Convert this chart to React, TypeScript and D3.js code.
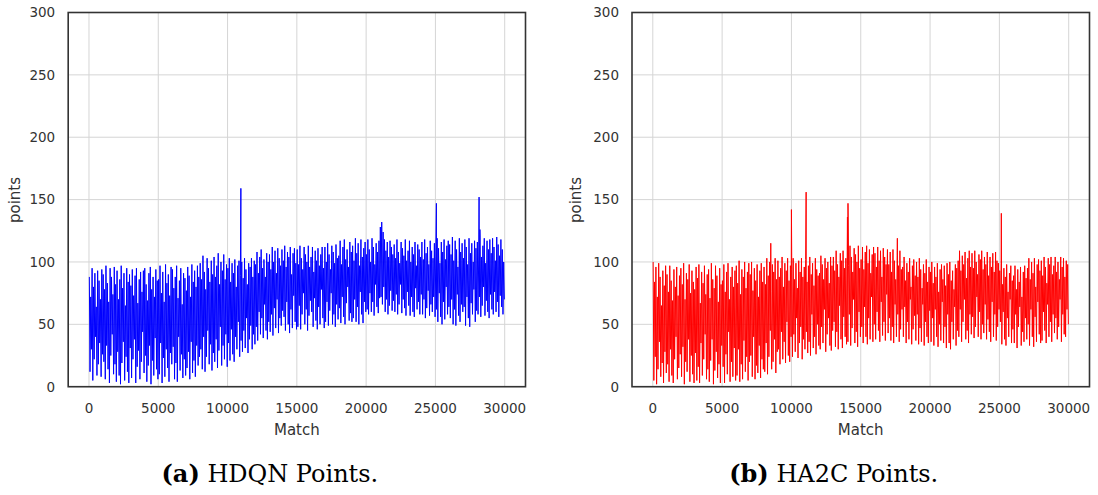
import React from "react";
import * as d3 from "d3";

// ---- Data ----
// Each panel: 300 bins of 100 matches; per bin a high and a low excursion of the noisy series.
const BIN = 100;

const HDQN_HI = [
  88, 72, 95, 80, 91, 64, 93, 85, 70, 94,
  90, 78, 97, 83, 68, 95, 88, 74, 96, 82,
  93, 70, 86, 97, 79, 91, 65, 95, 84, 90,
  81, 94, 73, 89, 95, 67, 86, 92, 76, 93,
  95, 82, 69, 91, 96, 78, 88, 72, 94, 85,
  86, 97, 75, 92, 68, 98, 83, 90, 73, 96,
  94, 79, 88, 97, 71, 85, 95, 66, 91, 87,
  77, 96, 89, 72, 98, 84, 93, 80, 97, 88,
  99, 86, 105, 92, 78, 103, 95, 84, 101, 90,
  104, 88, 97, 107, 82, 100, 93, 106, 86, 98,
  95, 103, 84, 99, 91, 102, 80, 97, 101, 89,
  100, 87, 103, 94, 82, 99, 96, 103, 88, 101,
  98, 108, 91, 104, 110, 95, 102, 88, 107, 100,
  106, 94, 112, 100, 109, 91, 111, 103, 97, 110,
  101, 113, 96, 108, 104, 112, 90, 107, 111, 99,
  110, 98, 113, 103, 94, 112, 106, 100, 113, 96,
  104, 112, 92, 109, 101, 111, 97, 106, 112, 95,
  112, 100, 115, 106, 94, 113, 108, 99, 114, 103,
  105, 117, 98, 112, 118, 102, 110, 96, 116, 108,
  113, 101, 119, 107, 115, 97, 118, 104, 111, 116,
  106, 118, 110, 100, 119, 112, 98, 115, 108, 117,
  128, 132, 124, 118, 109, 116, 104, 117, 112, 106,
  114, 103, 118, 108, 99, 116, 111, 105, 118, 101,
  109, 117, 100, 112, 106, 116, 97, 114, 110, 104,
  116, 102, 118, 107, 112, 98, 117, 109, 103, 115,
  104, 119, 111, 99, 116, 108, 118, 102, 113, 117,
  114, 106, 120, 101, 117, 110, 96, 119, 108, 115,
  103, 118, 112, 98, 119, 107, 115, 100, 117, 111,
  116, 108, 120, 104, 113, 119, 99, 117, 110, 118,
  107, 119, 112, 101, 120, 114, 105, 118, 110, 100,
];
const HDQN_LO = [
  12, 30, 5, 22, 40, 9, 18, 35, 8, 26,
  20, 6, 33, 14, 3, 25, 42, 10, 18, 4,
  28, 9, 2, 19, 36, 5, 24, 12, 3, 31,
  7, 22, 38, 3, 16, 29, 6, 20, 44, 11,
  25, 4, 17, 33, 2, 21, 9, 39, 14, 6,
  10, 35, 3, 23, 8, 30, 15, 4, 27, 18,
  32, 6, 19, 4, 40, 13, 26, 7, 22, 9,
  15, 28, 6, 36, 11, 21, 8, 33, 17, 24,
  30, 14, 40, 12, 24, 45, 18, 34, 13, 27,
  20, 38, 15, 29, 48, 17, 33, 22, 42, 16,
  35, 21, 46, 26, 20, 40, 30, 52, 24, 37,
  28, 45, 31, 55, 27, 38, 49, 30, 42, 34,
  48, 37, 60, 42, 55, 39, 66, 45, 38, 52,
  44, 58, 41, 63, 47, 70, 43, 55, 49, 61,
  56, 45, 68, 50, 43, 62, 47, 73, 52, 46,
  48, 65, 46, 58, 75, 50, 62, 45, 57, 69,
  60, 48, 71, 53, 46, 64, 50, 78, 55, 47,
  52, 68, 49, 61, 75, 50, 58, 48, 66, 54,
  63, 51, 72, 56, 50, 67, 80, 53, 59, 52,
  55, 70, 52, 64, 50, 76, 58, 51, 68, 60,
  62, 58, 75, 60, 68, 57, 82, 64, 59, 71,
  72, 66, 80, 60, 70, 58, 65, 77, 61, 69,
  60, 74, 58, 66, 82, 59, 70, 63, 57, 76,
  65, 57, 72, 60, 56, 79, 62, 68, 58, 74,
  58, 70, 55, 63, 77, 57, 66, 60, 72, 56,
  62, 52, 75, 56, 50, 68, 54, 80, 58, 64,
  55, 70, 50, 62, 49, 74, 57, 52, 66, 60,
  64, 49, 72, 55, 48, 67, 58, 78, 52, 61,
  58, 72, 56, 65, 80, 57, 69, 60, 55, 74,
  62, 58, 76, 60, 68, 56, 73, 64, 58, 70,
];
const HDQN_SPIKE_AT = [10960, 25070, 28150, 28210];
const HDQN_SPIKE_VAL = [159, 147, 152, 126];

const HA2C_HI = [
  100, 84, 96, 72, 99, 88, 65, 93, 81, 97,
  90, 76, 97, 85, 69, 94, 80, 96, 73, 89,
  95, 82, 99, 70, 91, 86, 98, 75, 93, 84,
  78, 96, 87, 98, 67, 92, 83, 97, 74, 90,
  94, 71, 99, 86, 79, 97, 89, 68, 95, 82,
  85, 98, 76, 92, 99, 70, 88, 96, 80, 93,
  97, 83, 101, 74, 94, 88, 100, 79, 92, 99,
  90, 100, 77, 95, 85, 98, 72, 93, 99, 84,
  96, 82, 103, 89, 100, 76, 98, 92, 103, 86,
  101, 88, 95, 104, 80, 99, 93, 103, 85, 97,
  94, 103, 86, 99, 79, 101, 92, 103, 88, 96,
  102, 84, 97, 104, 90, 99, 81, 103, 94, 89,
  91, 105, 98, 86, 103, 95, 100, 83, 104, 97,
  104, 93, 109, 98, 88, 107, 101, 109, 95, 103,
  110, 97, 113, 104, 92, 111, 106, 100, 113, 95,
  102, 112, 94, 108, 113, 99, 110, 91, 106, 112,
  107, 96, 112, 101, 109, 88, 111, 104, 98, 110,
  98, 108, 92, 110, 101, 86, 105, 97, 109, 94,
  96, 104, 85, 99, 92, 103, 80, 97, 102, 89,
  100, 88, 103, 94, 79, 98, 91, 102, 84, 96,
  92, 100, 83, 96, 88, 99, 76, 94, 98, 86,
  97, 81, 99, 90, 100, 85, 93, 78, 98, 95,
  101, 109, 93, 105, 98, 108, 87, 103, 109, 96,
  107, 95, 109, 100, 90, 106, 102, 109, 94, 104,
  98, 108, 89, 104, 96, 107, 92, 108, 101, 99,
  93, 99, 82, 95, 88, 98, 76, 91, 97, 85,
  89, 97, 78, 94, 84, 96, 72, 92, 97, 87,
  95, 103, 86, 100, 91, 103, 80, 98, 102, 93,
  101, 89, 104, 96, 83, 103, 98, 104, 90, 97,
  104, 92, 100, 86, 104, 96, 103, 88, 101, 98,
];
const HA2C_LO = [
  5, 24, 2, 14, 36, 8, 19, 3, 28, 11,
  18, 4, 30, 9, 3, 22, 40, 6, 15, 26,
  8, 32, 2, 20, 12, 38, 4, 25, 10, 3,
  27, 5, 16, 3, 35, 9, 22, 42, 6, 14,
  4, 21, 38, 2, 13, 28, 7, 18, 3, 33,
  16, 3, 26, 10, 44, 4, 20, 8, 31, 5,
  9, 30, 4, 18, 6, 37, 12, 24, 5, 20,
  25, 8, 40, 6, 17, 11, 33, 7, 22, 14,
  12, 35, 10, 24, 45, 14, 20, 38, 11, 28,
  30, 18, 44, 22, 36, 19, 52, 25, 20, 40,
  24, 42, 28, 55, 23, 35, 48, 22, 38, 30,
  44, 27, 36, 25, 58, 31, 40, 26, 50, 33,
  30, 48, 35, 62, 28, 42, 55, 33, 29, 45,
  52, 32, 44, 30, 65, 38, 31, 56, 40, 34,
  36, 58, 33, 47, 70, 35, 44, 32, 60, 40,
  48, 35, 64, 40, 34, 55, 38, 72, 36, 50,
  38, 60, 45, 36, 68, 41, 52, 37, 74, 43,
  55, 37, 48, 35, 66, 40, 58, 36, 46, 62,
  40, 64, 35, 52, 38, 70, 34, 46, 57, 37,
  58, 34, 47, 36, 66, 33, 52, 40, 35, 61,
  36, 55, 33, 62, 40, 32, 50, 37, 68, 35,
  48, 31, 58, 35, 30, 52, 38, 64, 33, 45,
  40, 62, 36, 52, 70, 38, 45, 35, 58, 42,
  56, 39, 48, 72, 40, 60, 38, 50, 43, 66,
  38, 54, 44, 36, 68, 40, 58, 37, 48, 62,
  52, 34, 60, 38, 33, 55, 40, 70, 35, 46,
  35, 58, 31, 48, 64, 33, 44, 36, 55, 38,
  50, 33, 62, 40, 32, 56, 36, 68, 42, 35,
  37, 60, 45, 35, 66, 40, 52, 36, 58, 43,
  55, 38, 48, 70, 36, 58, 42, 40, 62, 50,
];
const HA2C_SPIKE_AT = [8510, 10000, 11060, 14040, 14080, 17640, 25140];
const HA2C_SPIKE_VAL = [115, 142, 156, 136, 147, 119, 139];

const X_TICKS = [0, 5000, 10000, 15000, 20000, 25000, 30000];
const Y_TICKS = [0, 50, 100, 150, 200, 250, 300];

type Pt = { x: number; y: number };

function buildSeries(hi: number[], lo: number[], spikeAt: number[], spikeVal: number[]): Pt[] {
  const pts: Pt[] = [];
  const n = Math.min(hi.length, lo.length);
  for (let i = 0; i < n; i++) {
    pts.push({ x: i * BIN + 25, y: hi[i] });
    pts.push({ x: i * BIN + 75, y: lo[i] });
  }
  spikeAt.forEach((a, k) => pts.push({ x: a, y: spikeVal[k] }));
  pts.sort((a, b) => a.x - b.x);
  return pts;
}

const TXT = "#333333";
const GRID = "#d5d5d5";

function Panel(props: {
  left: number;
  right: number;
  series: Pt[];
  color: string;
  caption: string;
  tag: string;
  ylabelX: number;
}) {
  const { left, right, series, color, caption, tag, ylabelX } = props;
  const top = 12.5;
  const bottom = 386.7;
  const x = d3.scaleLinear().domain([-1500, 31500]).range([left, right]);
  const y = d3.scaleLinear().domain([0, 300]).range([bottom, top]);
  const line = d3
    .line<Pt>()
    .x((d) => x(d.x))
    .y((d) => y(d.y));
  const cx = (left + right) / 2;
  return (
    <g>
      <rect x={left} y={top} width={right - left} height={bottom - top} fill="#fff" />
      {X_TICKS.map((t) => (
        <line key={"gx" + t} x1={x(t)} x2={x(t)} y1={top} y2={bottom} stroke={GRID} strokeWidth={1} />
      ))}
      {Y_TICKS.map((t) => (
        <line key={"gy" + t} x1={left} x2={right} y1={y(t)} y2={y(t)} stroke={GRID} strokeWidth={1} />
      ))}
      <path d={line(series) || ""} fill="none" stroke={color} strokeWidth={1} strokeLinejoin="miter" />
      <rect x={left} y={top} width={right - left} height={bottom - top} fill="none" stroke={TXT} strokeWidth={1.6} />
      {X_TICKS.map((t) => (
        <text key={"tx" + t} x={x(t)} y={413} textAnchor="middle" fontSize={13.5} fill={TXT} fontFamily="DejaVu Sans">
          {t}
        </text>
      ))}
      {Y_TICKS.map((t) => (
        <text key={"ty" + t} x={left - 13} y={y(t) + 4.8} textAnchor="end" fontSize={13.5} fill={TXT} fontFamily="DejaVu Sans">
          {t}
        </text>
      ))}
      <text x={cx} y={435} textAnchor="middle" fontSize={15} fill={TXT} fontFamily="DejaVu Sans">
        Match
      </text>
      <text
        transform={`translate(${ylabelX},200) rotate(-90)`}
        textAnchor="middle"
        fontSize={15}
        fill={TXT}
        fontFamily="DejaVu Sans"
      >
        points
      </text>
      <text x={cx - 27} y={482} textAnchor="middle" fontSize={24} fill="#000" fontFamily="DejaVu Serif">
        <tspan fontWeight="bold">{tag}</tspan> {caption}
      </text>
    </g>
  );
}

export default function App() {
  const s1 = buildSeries(HDQN_HI, HDQN_LO, HDQN_SPIKE_AT, HDQN_SPIKE_VAL);
  const s2 = buildSeries(HA2C_HI, HA2C_LO, HA2C_SPIKE_AT, HA2C_SPIKE_VAL);
  return (
    <svg
      width={1098}
      height={495}
      style={{ position: "absolute", left: 0, top: 0, background: "#fff" }}
    >
      <rect width={1098} height={495} fill="#fff" />
      <Panel left={68.2} right={525.5} series={s1} color="#0000ff" tag="(a)" caption="HDQN Points." ylabelX={20} />
      <Panel left={632} right={1089.5} series={s2} color="#ff0000" tag="(b)" caption="HA2C Points." ylabelX={581} />
    </svg>
  );
}
